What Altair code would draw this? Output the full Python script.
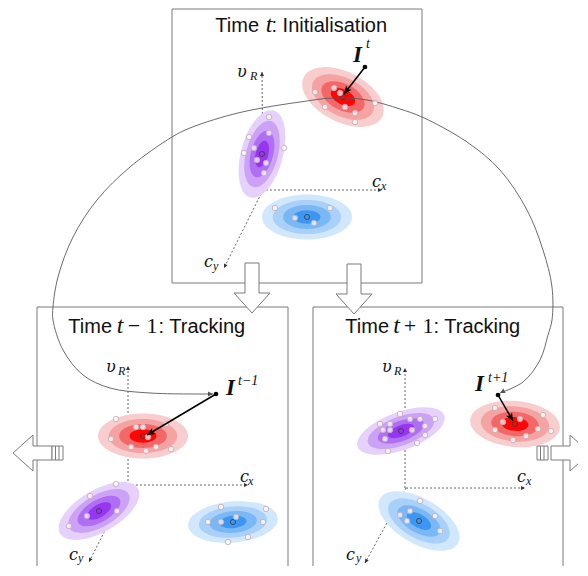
import math
import altair as alt
import pandas as pd

# ---------------- data (image pixel coordinates) ----------------
# panel frames
box_x0 = [172, 37, 313]
box_y0 = [9, 307, 307]
box_x1 = [422, 288, 563]
box_y1 = [283, 600, 600]

# gaussian blobs
blob_color = ["red", "purple", "blue", "red", "purple", "blue", "purple", "red", "blue"]
blob_x = [343, 262, 307, 143, 99, 233, 401, 515, 419]
blob_y = [97, 154, 217, 436, 511, 522, 431, 424, 521]
blob_a = [44, 45, 45, 45, 45, 45, 46, 45, 45]
blob_b = [25, 21, 22.5, 22.5, 21, 20.5, 19, 23, 22.5]
blob_angle = [27, 105, 0, 0, 330, 355, 340, 5, 30]

# particles
part_x = [315, 334, 340, 325, 345, 355, 355, 375,
          269, 249, 269, 254, 284, 244, 257, 266, 264,
          275, 330, 295, 314,
          116, 136, 143, 148, 111, 131, 156, 146, 171, 166,
          116, 90, 117, 87, 69,
          221, 266, 208, 221, 236, 263, 228, 248,
          400, 380, 390, 410, 420, 435, 383, 390, 412, 425, 425, 385, 417, 388,
          495, 543, 503, 520, 495, 538, 526, 551, 513,
          420, 410, 400, 407, 435, 440]
part_y = [92, 88, 93, 107, 107, 113, 122, 103,
          117, 137, 133, 148, 148, 153, 160, 163, 173,
          208, 208, 218, 223,
          419, 427, 427, 437, 439, 447, 447, 451, 449, 424,
          484, 496, 511, 516, 526,
          507, 509, 522, 522, 517, 522, 542, 537,
          414, 424, 424, 419, 419, 419, 430, 430, 430, 426, 435, 439, 443, 451,
          408, 415, 422, 419, 430, 429, 436, 431, 440,
          501, 511, 515, 521, 516, 531]

# dotted state axes (origin -> end)
axis_x0 = [263, 266, 263, 128, 128, 128, 405, 406, 406]
axis_y0 = [190, 190, 190, 485, 485, 485, 488, 488, 488]
axis_x1 = [262, 382, 224, 128, 248, 89, 405, 525, 365]
axis_y1 = [72, 190, 268, 366, 485, 562, 368, 488, 563]

# axis labels: main symbol + subscript
axl_main = ["υ", "c", "c", "υ", "c", "c", "υ", "c", "c"]
axl_mx = [237, 372, 204, 106, 240, 69, 382, 517, 346]
axl_my = [77, 187, 267, 372, 482, 560, 372, 482, 560]
axl_sub = ["R", "x", "y", "R", "x", "y", "R", "x", "y"]
axl_sx = [250, 381, 213, 118, 248, 78, 394, 526, 356]
axl_sy = [80, 190, 270, 375, 485, 562, 375, 485, 562]

# measurement pointers I
I_dot_x = [365, 216, 498]
I_dot_y = [67, 394, 395]
I_tip_x = [344, 147, 513]
I_tip_y = [94, 435, 421]
I_lab_x = [353, 226, 475]
I_lab_y = [62, 395, 391]
I_sup = ["t", "t−1", "t+1"]
I_sup_x = [366, 238, 488]
I_sup_y = [48, 385, 382]

# long connecting curve
curve_x = [213, 150, 110, 83, 63, 53, 53, 58, 73, 97, 130, 172, 190, 230, 262, 300, 333,
           367, 400, 422, 467, 500, 527, 543, 552, 552, 548, 540, 523, 500]
curve_y = [394, 393, 388, 375, 350, 320, 307, 277, 237, 200, 167, 137, 128, 115, 108, 102, 98,
           100, 109, 117, 142, 170, 210, 250, 287, 320, 335, 360, 382, 393]

# block arrows (tip position, direction, kind)
barrow_x = [252, 354, 13, 590]
barrow_y = [313, 314, 453, 453]
barrow_dir = [90, 90, 180, 0]
barrow_kind = ["long", "long", "short", "short"]
bars_x = [52, 537]
bars_y = [453, 453]

# titles
title_left = ["Time", "Time", "Time"]
title_left_x = [259, 112, 389]
title_right = [": Initialisation", ": Tracking", ": Tracking"]
title_right_x = [271.5, 158.5, 433.5]
title_y = [32, 333, 333]
title_t_x = [269, 120, 396.5]
title_op = ["−", "1", "+", "1"]
title_op_x = [134, 152, 410, 428]
title_op_y = [333, 333, 333, 333]

# ---------------- styling helpers ----------------
W, H = 570, 558
xs = alt.Scale(domain=[8, 8 + W], nice=False, zero=False)
ys = alt.Scale(domain=[8, 8 + H], nice=False, zero=False, reverse=True)
X = lambda f="x": alt.X(f"{f}:Q", scale=xs, axis=None)
Y = lambda f="y": alt.Y(f"{f}:Q", scale=ys, axis=None)

palette = {
    "red": ["#f8cdcd", "#f5a2a2", "#f26868", "#ff0505"],
    "purple": ["#e5d1fb", "#cca2f6", "#ae6ff3", "#9635f2"],
    "blue": ["#d1e7fc", "#a8d0f8", "#7ab8f5", "#3c96f2"],
}
level_f = [1.0, 0.76, 0.53, 0.3]
K = 0.5523


def ellipse_path(r):
    r = round(r, 4)
    kr = round(K * r, 4)
    return (f"M 1 0 C 1 {kr} {K} {r} 0 {r} C {-K} {r} -1 {kr} -1 0 "
            f"C -1 {-kr} {-K} {-r} 0 {-r} C {K} {-r} 1 {-kr} 1 0 Z")


rows = []
for i in range(len(blob_x)):
    for j, f in enumerate(level_f):
        a = blob_a[i] * f
        rows.append(dict(x=blob_x[i], y=blob_y[i], size=4 * a * a,
                         shape=ellipse_path(blob_b[i] / blob_a[i]),
                         angle=blob_angle[i] % 360,
                         key=f"{blob_color[i]}{j}", o=i * 10 + j))
ell_df = pd.DataFrame(rows)
keys = [f"{c}{j}" for c in palette for j in range(4)]
cols = [palette[c][j] for c in palette for j in range(4)]


def ang(x0, y0, x1, y1):
    return math.degrees(math.atan2(y1 - y0, x1 - x0)) % 360


boxes = alt.Chart(pd.DataFrame(dict(x=box_x0, y=box_y0, x2=box_x1, y2=box_y1))).mark_rect(
    fill="white", stroke="#7a7a7a", strokeWidth=1).encode(
    x=X(), y=Y(), x2="x2:Q", y2="y2:Q")

axes_df = pd.DataFrame(dict(x=axis_x0, y=axis_y0, x2=axis_x1, y2=axis_y1))
axes_rules = alt.Chart(axes_df).mark_rule(strokeDash=[2, 2], color="#555", strokeWidth=0.9).encode(
    x=X(), y=Y(), x2="x2:Q", y2="y2:Q")
axhead_df = pd.DataFrame(dict(x=axis_x1, y=axis_y1,
                              angle=[ang(a, b, c, d) for a, b, c, d in zip(axis_x0, axis_y0, axis_x1, axis_y1)]))
axes_heads = alt.Chart(axhead_df).mark_point(
    shape="M 0 0 L -4 -2 L -4 2 Z", filled=True, color="#333", size=4, opacity=1).encode(
    x=X(), y=Y(), angle=alt.Angle("angle:Q", scale=None))

ellipses = alt.Chart(ell_df).mark_point(filled=True, opacity=1, strokeWidth=0).encode(
    x=X(), y=Y(),
    size=alt.Size("size:Q", scale=None),
    shape=alt.Shape("shape:N", scale=None),
    angle=alt.Angle("angle:Q", scale=None),
    color=alt.Color("key:N", scale=alt.Scale(domain=keys, range=cols), legend=None),
    order=alt.Order("o:Q"))

centers = alt.Chart(pd.DataFrame(dict(x=blob_x, y=blob_y))).mark_point(
    shape="circle", filled=False, stroke="#3a3a3a", strokeWidth=0.8, size=26, opacity=1).encode(
    x=X(), y=Y())

curve = alt.Chart(pd.DataFrame(dict(x=curve_x, y=curve_y, i=list(range(len(curve_x)))))).mark_line(
    interpolate="catmull-rom", color="#5a5a5a", strokeWidth=0.9).encode(
    x=X(), y=Y(), order="i:Q")
curve_heads = alt.Chart(pd.DataFrame(dict(
    x=[curve_x[0], curve_x[-1]], y=[curve_y[0], curve_y[-1]],
    angle=[ang(curve_x[1], curve_y[1], curve_x[0], curve_y[0]),
           ang(curve_x[-2], curve_y[-2], curve_x[-1], curve_y[-1])]))).mark_point(
    shape="M 0 0 L -5 -2.5 L -5 2.5 Z", filled=True, color="#555", size=4, opacity=1).encode(
    x=X(), y=Y(), angle=alt.Angle("angle:Q", scale=None))

particles = alt.Chart(pd.DataFrame(dict(x=part_x, y=part_y))).mark_point(
    shape="circle", filled=False, fill="white", fillOpacity=0.72, stroke="#c7aeb6",
    strokeWidth=0.9, size=30, opacity=1).encode(x=X(), y=Y())

ptr_df = pd.DataFrame(dict(x=I_dot_x, y=I_dot_y, x2=I_tip_x, y2=I_tip_y,
                           angle=[ang(a, b, c, d) for a, b, c, d in zip(I_dot_x, I_dot_y, I_tip_x, I_tip_y)]))
ptr_line = alt.Chart(ptr_df).mark_rule(color="black", strokeWidth=1.5).encode(
    x=X(), y=Y(), x2="x2:Q", y2="y2:Q")
ptr_dot = alt.Chart(ptr_df).mark_point(shape="circle", filled=True, color="black", size=22, opacity=1).encode(
    x=X(), y=Y())
ptr_head = alt.Chart(ptr_df).mark_point(
    shape="M 0 0 L -8 -3.5 L -6 0 L -8 3.5 Z", filled=True, color="black", size=4, opacity=1).encode(
    x=X("x2"), y=Y("y2"), angle=alt.Angle("angle:Q", scale=None))

arrow_paths = {
    "long": "M 0 0 L -20 -18 L -20 -7 L -50 -7 L -50 7 L -20 7 L -20 18 Z",
    "short": "M 0 0 L -20 -18 L -20 -7 L -39 -7 L -39 7 L -20 7 L -20 18 Z",
}
barrow_df = pd.DataFrame(dict(x=barrow_x, y=barrow_y, angle=barrow_dir,
                              shape=[arrow_paths[k] for k in barrow_kind]))
block_arrows = alt.Chart(barrow_df).mark_point(
    filled=False, fill="white", stroke="#7a7a7a", strokeWidth=1, size=4, opacity=1).encode(
    x=X(), y=Y(), angle=alt.Angle("angle:Q", scale=None), shape=alt.Shape("shape:N", scale=None))
bars = alt.Chart(pd.DataFrame(dict(x=bars_x, y=bars_y))).mark_point(
    shape="M 0 -7 L 11 -7 L 11 7 L 0 7 Z M 3.5 -7 L 3.5 7 M 7 -7 L 7 7",
    filled=False, fill="white", stroke="#7a7a7a", strokeWidth=1, size=4, opacity=1).encode(
    x=X(), y=Y())

SANS = "Liberation Sans"
SERIF = "Liberation Serif"


def txt(df, **kw):
    return alt.Chart(df).mark_text(baseline="alphabetic", color="#111", **kw).encode(
        x=X(), y=Y(), text="t:N")


t_title_l = txt(pd.DataFrame(dict(t=title_left, x=title_left_x, y=title_y)),
                font=SANS, fontSize=20, align="right")
t_title_r = txt(pd.DataFrame(dict(t=title_right, x=title_right_x, y=title_y)),
                font=SANS, fontSize=20, align="left")
t_title_t = txt(pd.DataFrame(dict(t=["t"] * 3, x=title_t_x, y=title_y)),
                font=SERIF, fontSize=24, fontStyle="italic", align="center")
t_title_op = txt(pd.DataFrame(dict(t=title_op, x=title_op_x, y=title_op_y)),
                 font=SERIF, fontSize=22, align="center")
t_axm = txt(pd.DataFrame(dict(t=axl_main, x=axl_mx, y=axl_my)),
            font="DejaVu Serif", fontSize=16, fontStyle="italic", align="left")
t_axs = txt(pd.DataFrame(dict(t=axl_sub, x=axl_sx, y=axl_sy)),
            font=SERIF, fontSize=12, fontStyle="italic", align="left")
t_I = txt(pd.DataFrame(dict(t=["I"] * 3, x=I_lab_x, y=I_lab_y)),
          font=SERIF, fontSize=23, fontStyle="italic", fontWeight="bold", align="left")
t_Isup = txt(pd.DataFrame(dict(t=I_sup, x=I_sup_x, y=I_sup_y)),
             font=SERIF, fontSize=14, fontStyle="italic", align="left")

chart = alt.layer(
    boxes, axes_rules, axes_heads, ellipses, centers, curve, curve_heads, particles,
    ptr_line, ptr_head, ptr_dot, block_arrows, bars,
    t_title_l, t_title_r, t_title_t, t_title_op, t_axm, t_axs, t_I, t_Isup,
).properties(
    width=W, height=H, padding=0, autosize=alt.AutoSizeParams(type="none"),
).configure_view(stroke=None)

chart.save("out.html", embed_options={"renderer": "svg", "actions": False})
